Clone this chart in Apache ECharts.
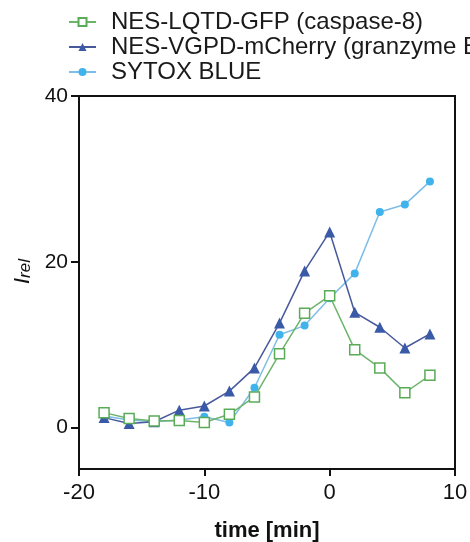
<!DOCTYPE html>
<html>
<head>
<meta charset="utf-8">
<script src="https://cdn.jsdelivr.net/npm/echarts@6/dist/echarts.min.js"></script>
<style>html,body{margin:0;padding:0;background:#fff}#c{width:470px;height:542px}</style>
</head>
<body>
<div id="c"></div>
<script>
const times = [-18,-16,-14,-12,-10,-8,-6,-4,-2,0,2,4,6,8];
const seriesNames = ['NES-LQTD-GFP (caspase-8)','NES-VGPD-mCherry (granzyme B)','SYTOX BLUE'];
const lqtd = [1.8,1.1,0.8,0.85,0.6,1.6,3.7,8.9,13.8,15.9,9.4,7.2,4.2,6.3];
const vgpd = [1.2,0.5,0.7,2.1,2.6,4.4,7.2,12.6,18.9,23.6,13.9,12.1,9.6,11.3];
const sytox = [1.4,0.9,0.7,0.9,1.3,0.6,4.8,11.2,12.3,15.6,18.6,26.0,26.9,29.7];
const xTicks = [-20,-10,0,10];
const yTicks = [0,20,40];

const pair = arr => times.map((t,i)=>[t,arr[i]]);
const chart = echarts.init(document.getElementById('c'), null, {renderer:'canvas'});
const font = '"Liberation Sans", Arial, sans-serif';
chart.setOption({
  animation:false,
  textStyle:{fontFamily:font},
  legend:{
    orient:'vertical', left:63, top:5, itemWidth:27, itemHeight:10, itemGap:1,
    data:[seriesNames[0],seriesNames[1],seriesNames[2]],
    textStyle:{fontSize:24, color:'#1a1a1a', fontFamily:font, padding:[0,0,0,10]}
  },
  grid:{left:79,right:15,top:96,bottom:73,outerBoundsMode:'none',containLabel:false,
        show:true,borderColor:'#111',borderWidth:2,backgroundColor:'transparent'},
  xAxis:{
    type:'value', min:-20, max:10, interval:10,
    axisLine:{show:true,onZero:false,lineStyle:{color:'#111',width:2}},
    axisTick:{show:true,length:7,lineStyle:{color:'#111',width:2}},
    splitLine:{show:false},
    axisLabel:{fontSize:22,color:'#111',margin:13,fontFamily:font},
    name:'time [min]', nameLocation:'middle', nameGap:51,
    nameTextStyle:{fontSize:22,fontWeight:'bold',color:'#111',fontFamily:font}
  },
  yAxis:{
    type:'value', min:-5, max:40,
    axisLine:{show:true,onZero:false,lineStyle:{color:'#111',width:2}},
    axisTick:{show:true,length:8,customValues:yTicks,lineStyle:{color:'#111',width:2}},
    splitLine:{show:false},
    axisLabel:{fontSize:21,color:'#111',margin:11,customValues:yTicks,fontFamily:font},
    name:'{a|I}{b|rel}', nameLocation:'middle', nameGap:36, nameRotate:90,
    nameTextStyle:{
      padding:[0,0,0,22],
      rich:{
        a:{fontSize:22,fontStyle:'italic',color:'#111',fontFamily:font,verticalAlign:'bottom'},
        b:{fontSize:17,fontStyle:'italic',color:'#111',fontFamily:font,verticalAlign:'bottom',padding:[8,0,0,0]}
      }
    }
  },
  series:[
    {name:seriesNames[2],type:'line',data:pair(sytox),symbol:'circle',symbolSize:8,
     lineStyle:{color:'#7dbde8',width:1.5},itemStyle:{color:'#3fb3ea'}},
    {name:seriesNames[1],type:'line',data:pair(vgpd),symbol:'triangle',symbolSize:11,
     lineStyle:{color:'#47599b',width:1.5},itemStyle:{color:'#3a5aa8'}},
    {name:seriesNames[0],type:'line',data:pair(lqtd),symbol:'rect',symbolSize:10,
     lineStyle:{color:'#6cb46a',width:1.5},itemStyle:{color:'#fff',borderColor:'#5aab57',borderWidth:1.5}}
  ]
});
</script>
</body>
</html>
